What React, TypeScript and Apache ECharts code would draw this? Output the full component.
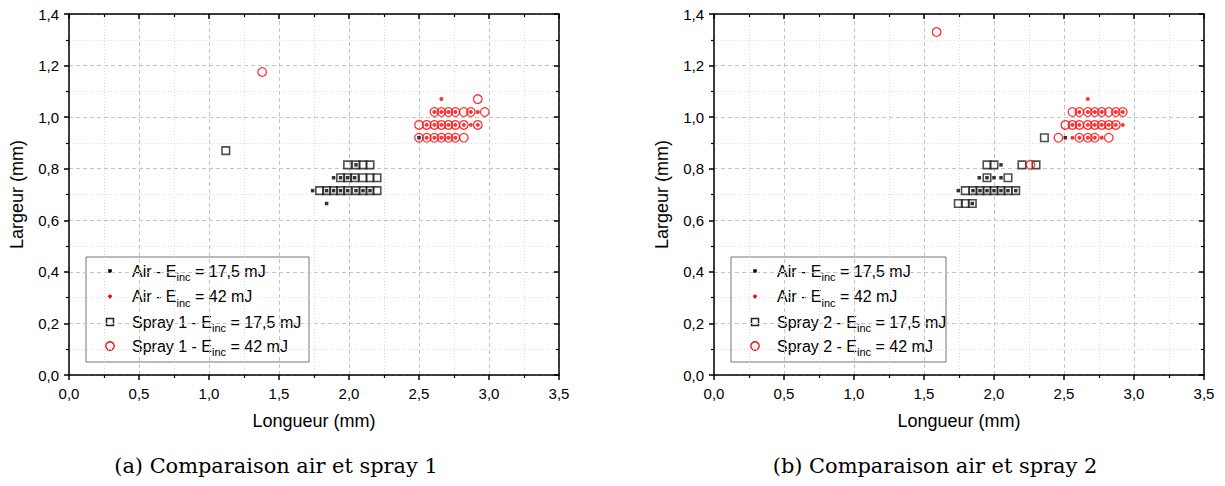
import React, { useEffect, useRef } from "react";
import * as echarts from "echarts";

// ---------- data (x: Longueur mm, y: Largeur mm) ----------
const air17A: number[][] = [
  [2.05, 0.815],
  [1.89, 0.765], [1.94, 0.765], [1.99, 0.765], [2.04, 0.765],
  [1.74, 0.715], [1.84, 0.715], [1.89, 0.715], [1.94, 0.715], [1.99, 0.715], [2.05, 0.715], [2.10, 0.715], [2.15, 0.715],
  [1.84, 0.665],
  [2.50, 0.92],
];
const air42A: number[][] = [
  [2.66, 1.07],
  [2.61, 1.02], [2.66, 1.02], [2.71, 1.02], [2.76, 1.02], [2.87, 1.02], [2.92, 1.02],
  [2.555, 0.97], [2.61, 0.97], [2.66, 0.97], [2.71, 0.97], [2.76, 0.97], [2.82, 0.97], [2.87, 0.97], [2.92, 0.97],
  [2.555, 0.92], [2.61, 0.92], [2.66, 0.92], [2.71, 0.92], [2.76, 0.92],
];
const spray17A: number[][] = [
  [1.12, 0.87],
  [1.99, 0.815], [2.05, 0.815], [2.10, 0.815], [2.15, 0.815],
  [1.94, 0.765], [1.99, 0.765], [2.04, 0.765], [2.10, 0.765], [2.15, 0.765], [2.20, 0.765],
  [1.79, 0.715], [1.84, 0.715], [1.89, 0.715], [1.94, 0.715], [1.99, 0.715], [2.05, 0.715], [2.10, 0.715], [2.15, 0.715], [2.20, 0.715],
];
const spray42A: number[][] = [
  [1.38, 1.175],
  [2.92, 1.07],
  [2.61, 1.02], [2.66, 1.02], [2.71, 1.02], [2.76, 1.02], [2.82, 1.02], [2.87, 1.02], [2.97, 1.02],
  [2.50, 0.97], [2.555, 0.97], [2.61, 0.97], [2.66, 0.97], [2.71, 0.97], [2.76, 0.97], [2.82, 0.97], [2.92, 0.97],
  [2.50, 0.92], [2.555, 0.92], [2.61, 0.92], [2.66, 0.92], [2.71, 0.92], [2.76, 0.92], [2.82, 0.92],
];

const air17B: number[][] = [
  [2.05, 0.815],
  [1.895, 0.765], [1.95, 0.765], [2.00, 0.765], [2.05, 0.765],
  [1.745, 0.715], [1.85, 0.715], [1.90, 0.715], [1.95, 0.715], [2.00, 0.715], [2.05, 0.715], [2.10, 0.715], [2.155, 0.715],
  [1.845, 0.665],
  [2.51, 0.92],
];
const air42B: number[][] = [
  [2.67, 1.07],
  [2.61, 1.02], [2.67, 1.02], [2.72, 1.02], [2.77, 1.02], [2.87, 1.02], [2.92, 1.02],
  [2.56, 0.97], [2.61, 0.97], [2.67, 0.97], [2.72, 0.97], [2.77, 0.97], [2.82, 0.97], [2.87, 0.97], [2.92, 0.97],
  [2.56, 0.92], [2.61, 0.92], [2.67, 0.92], [2.72, 0.92], [2.77, 0.92],
];
const spray17B: number[][] = [
  [1.95, 0.815], [2.00, 0.815], [2.20, 0.815], [2.30, 0.815],
  [1.95, 0.765], [2.10, 0.765],
  [1.795, 0.715], [1.85, 0.715], [1.90, 0.715], [1.95, 0.715], [2.00, 0.715], [2.05, 0.715], [2.10, 0.715], [2.155, 0.715],
  [1.745, 0.665], [1.795, 0.665], [1.845, 0.665],
  [2.36, 0.92],
];
const spray42B: number[][] = [
  [1.59, 1.33],
  [2.26, 0.815],
  [2.56, 1.02], [2.61, 1.02], [2.67, 1.02], [2.72, 1.02], [2.77, 1.02], [2.82, 1.02], [2.87, 1.02], [2.92, 1.02],
  [2.51, 0.97], [2.56, 0.97], [2.61, 0.97], [2.67, 0.97], [2.72, 0.97], [2.77, 0.97], [2.82, 0.97], [2.87, 0.97],
  [2.46, 0.92], [2.61, 0.92], [2.67, 0.92], [2.72, 0.92], [2.82, 0.92],
];

const xTitle = "Longueur (mm)";
const yTitle = "Largeur (mm)";
const captions = ["(a) Comparaison air et spray 1", "(b) Comparaison air et spray 2"];
const legendA = [
  ["Air - E", "inc", " = 17,5 mJ"],
  ["Air - E", "inc", " = 42 mJ"],
  ["Spray 1 - E", "inc", " = 17,5 mJ"],
  ["Spray 1 - E", "inc", " = 42 mJ"],
];
const legendB = [
  ["Air - E", "inc", " = 17,5 mJ"],
  ["Air - E", "inc", " = 42 mJ"],
  ["Spray 2 - E", "inc", " = 17,5 mJ"],
  ["Spray 2 - E", "inc", " = 42 mJ"],
];

const FONT = '"Liberation Sans", Arial, sans-serif';
const SERIF = '"DejaVu Serif", "Liberation Serif", serif';

const GRID_TOP = 14;
const GRID_H = 361;
const GRID_W = 490;
const GRID_LEFTS = [69, 714];

const fmt = (v: number) => v.toFixed(1).replace(".", ",");

function measure(text: string, font: string): number {
  const c = document.createElement("canvas").getContext("2d");
  if (!c) return text.length * 8;
  c.font = font;
  return c.measureText(text).width;
}

function buildLegend(x: number, y: number, w: number, h: number, items: string[][]) {
  const children: any[] = [];
  children.push({
    type: "rect",
    shape: { x, y, width: w, height: h },
    style: { fill: "#fff", stroke: "#777", lineWidth: 1 },
  });
  const rowY = [y + 14, y + 39.5, y + 65, y + 89];
  const symX = x + 24;
  const textX = x + 46;
  children.push({ type: "rect", shape: { x: symX - 1.75, y: rowY[0] - 1.75, width: 3.5, height: 3.5 }, style: { fill: "#000" } });
  children.push({ type: "circle", shape: { cx: symX, cy: rowY[1], r: 2 }, style: { fill: "#f00" } });
  children.push({ type: "rect", shape: { x: symX - 3.5, y: rowY[2] - 3.5, width: 7, height: 7 }, style: { fill: "none", stroke: "#222", lineWidth: 1.5 } });
  children.push({ type: "circle", shape: { cx: symX, cy: rowY[3], r: 4.2 }, style: { fill: "none", stroke: "#f00", lineWidth: 1.3 } });
  const mainFont = `16px ${FONT}`;
  const subFont = `11px ${FONT}`;
  items.forEach((parts, i) => {
    const yy = rowY[i];
    const w1 = measure(parts[0], mainFont);
    const w2 = measure(parts[1], subFont);
    children.push({ type: "text", x: textX, y: yy, style: { text: parts[0], font: mainFont, fill: "#000", textVerticalAlign: "middle" } });
    children.push({ type: "text", x: textX + w1, y: yy + 6, style: { text: parts[1], font: subFont, fill: "#000", textVerticalAlign: "middle" } });
    children.push({ type: "text", x: textX + w1 + w2, y: yy, style: { text: parts[2], font: mainFont, fill: "#000", textVerticalAlign: "middle" } });
  });
  return { type: "group", children };
}

function axesFor(i: number) {
  const axisLine = { show: true, onZero: false, lineStyle: { color: "#000", width: 1.5 } };
  const xs = [
    {
      gridIndex: i, type: "value", min: 0, max: 3.5, interval: 0.5, position: "bottom",
      name: xTitle, nameLocation: "middle", nameGap: 37,
      nameTextStyle: { fontSize: 18, color: "#000", fontFamily: FONT },
      axisLine,
      axisTick: { show: true, inside: false, length: 5, lineStyle: { color: "#000", width: 1.5 } },
      minorTick: { show: true, splitNumber: 2, length: 3, lineStyle: { color: "#000", width: 1.2 } },
      axisLabel: { formatter: fmt, fontSize: 15, color: "#000", margin: 11, fontFamily: FONT },
      splitLine: { show: true, lineStyle: { color: "#c4c4c4", type: [4, 3], width: 1 } },
      minorSplitLine: { show: true, lineStyle: { color: "#dddddd", type: [1, 2], width: 1 } },
    },
    {
      gridIndex: i, type: "value", min: 0, max: 3.5, interval: 0.5, position: "top",
      axisLine,
      axisTick: { show: true, inside: true, length: 5, lineStyle: { color: "#000", width: 1.5 } },
      minorTick: { show: true, splitNumber: 2, length: 3, lineStyle: { color: "#000", width: 1.2 } },
      axisLabel: { show: false },
      splitLine: { show: false },
    },
  ];
  const ys = [
    {
      gridIndex: i, type: "value", min: 0, max: 1.4, interval: 0.2, position: "left",
      name: yTitle, nameLocation: "middle", nameGap: 43,
      nameTextStyle: { fontSize: 18, color: "#000", fontFamily: FONT },
      axisLine,
      axisTick: { show: true, inside: false, length: 5, lineStyle: { color: "#000", width: 1.5 } },
      minorTick: { show: true, splitNumber: 2, length: 3, lineStyle: { color: "#000", width: 1.2 } },
      axisLabel: { formatter: fmt, fontSize: 15, color: "#000", margin: 10, fontFamily: FONT },
      splitLine: { show: true, lineStyle: { color: "#c4c4c4", type: [4, 3], width: 1 } },
      minorSplitLine: { show: true, lineStyle: { color: "#dddddd", type: [1, 2], width: 1 } },
    },
    {
      gridIndex: i, type: "value", min: 0, max: 1.4, interval: 0.2, position: "right",
      axisLine,
      axisTick: { show: true, inside: true, length: 5, lineStyle: { color: "#000", width: 1.5 } },
      minorTick: { show: true, splitNumber: 2, length: 3, lineStyle: { color: "#000", width: 1.2 } },
      axisLabel: { show: false },
      splitLine: { show: false },
    },
  ];
  return { xs, ys };
}

function seriesFor(i: number, sets: number[][][], names: string[]) {
  const xi = i * 2;
  const yi = i * 2;
  const base = { type: "scatter", xAxisIndex: xi, yAxisIndex: yi, silent: true };
  return [
    { ...base, name: names[0], data: sets[0], symbol: "rect", symbolSize: 3.5, itemStyle: { color: "#000" }, z: 3 },
    { ...base, name: names[1], data: sets[1], symbol: "circle", symbolSize: 4, itemStyle: { color: "#f00" }, z: 3 },
    { ...base, name: names[2], data: sets[2], symbol: "rect", symbolSize: 7.5, itemStyle: { color: "rgba(0,0,0,0)", borderColor: "#222", borderWidth: 1.6 }, z: 4 },
    { ...base, name: names[3], data: sets[3], symbol: "circle", symbolSize: 8.6, itemStyle: { color: "rgba(0,0,0,0)", borderColor: "#f00", borderWidth: 1.3 }, z: 4 },
  ];
}

function captionFont(text: string, targetWidth: number): string {
  const w = measure(text, `20px ${SERIF}`);
  const size = w > 0 ? (20 * targetWidth) / w : 20;
  return `${size.toFixed(1)}px ${SERIF}`;
}

export default function App() {
  const ref = useRef<HTMLDivElement>(null);
  useEffect(() => {
    if (!ref.current) return;
    const chart = echarts.init(ref.current, undefined, { renderer: "svg" });
    const a0 = axesFor(0);
    const a1 = axesFor(1);
    const capFont = captionFont(captions[0], 324);
    const option: any = {
      animation: false,
      backgroundColor: "#fff",
      grid: GRID_LEFTS.map((l) => ({ left: l, top: GRID_TOP, width: GRID_W, height: GRID_H, containLabel: false })),
      xAxis: [...a0.xs, ...a1.xs],
      yAxis: [...a0.ys, ...a1.ys],
      series: [
        ...seriesFor(0, [air17A, air42A, spray17A, spray42A], [
          "Air - Einc = 17,5 mJ (a)", "Air - Einc = 42 mJ (a)", "Spray 1 - Einc = 17,5 mJ", "Spray 1 - Einc = 42 mJ",
        ]),
        ...seriesFor(1, [air17B, air42B, spray17B, spray42B], [
          "Air - Einc = 17,5 mJ (b)", "Air - Einc = 42 mJ (b)", "Spray 2 - Einc = 17,5 mJ", "Spray 2 - Einc = 42 mJ",
        ]),
      ],
      graphic: [
        buildLegend(86, 257, 223, 105, legendA),
        buildLegend(731, 257, 215, 105, legendB),
        { type: "text", x: 276, y: 466, style: { text: captions[0], font: capFont, fill: "#000", textAlign: "center", textVerticalAlign: "middle" } },
        { type: "text", x: 935, y: 466, style: { text: captions[1], font: capFont, fill: "#000", textAlign: "center", textVerticalAlign: "middle" } },
      ],
    };
    chart.setOption(option);
    return () => chart.dispose();
  }, []);
  return (
    <div
      ref={ref}
      style={{ position: "fixed", left: 0, top: 0, width: 1225, height: 486, background: "#fff" }}
    />
  );
}
